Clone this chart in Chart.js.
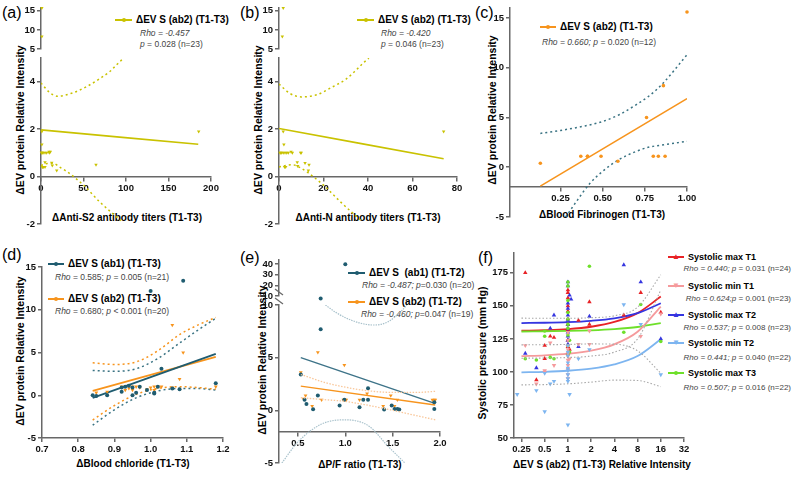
<!DOCTYPE html>
<html>
<head>
<meta charset="utf-8">
<script src="https://cdn.jsdelivr.net/npm/chart.js@4.4.1/dist/chart.umd.min.js"></script>
<style>
  body { margin: 0; background: #fff; }
  #fig { position: relative; width: 800px; height: 479px; overflow: hidden; font-family: 'Liberation Sans', Arial, sans-serif; }
  #fig canvas { position: absolute; left: 0; top: 0; }
  .t { position: absolute; white-space: nowrap; line-height: 1; color: #000; }
  .lab { font-size: 16px; transform: translateY(-50%); }
  .ax { font-size: 10px; font-weight: bold; transform: translate(-50%, -50%); }
  .yt { font-size: 10.5px; font-weight: bold; transform: translate(-50%, -50%) rotate(-90deg); }
  .lg { font-size: 10px; font-weight: bold; transform: translateY(-50%); }
  .lf { font-size: 9px; font-weight: bold; transform: translateY(-50%); }
  .st { font-size: 8.5px; color: #444; transform: translateY(-50%); }
  .sr { font-size: 8px; color: #444; transform: translate(-100%, -50%); }
  .sym { position: absolute; height: 2px; transform: translateY(-50%); }
  .sym b { position: absolute; left: 50%; top: 50%; width: 4px; height: 4px; margin: -2px 0 0 -2px; background: inherit; border-radius: 50%; }
  .sym i { position: absolute; left: 50%; top: 50%; transform: translate(-50%, -55%); font-size: 8px; font-style: normal; line-height: 1; }
</style>
</head>
<body>
<div id="fig">
  <!-- (a) -->
  <div class="t lab" style="left:2px;top:13px">(a)</div>
  <div class="t yt" style="left:20px;top:120px">ΔEV protein Relative Intensity</div>
  <div class="t ax" style="left:127px;top:218px">ΔAnti-S2 antibody titers (T1-T3)</div>
  <div class="sym" style="left:115px;top:20px;width:17px;background:#c9c200"><b></b></div>
  <div class="t lg" style="left:136px;top:20px">ΔEV S (ab2) (T1-T3)</div>
  <div class="t st" style="left:140px;top:33px"><i>Rho = -0.457</i></div>
  <div class="t st" style="left:140px;top:44px"><i>p</i> = 0.028 (n=23)</div>

  <!-- (b) -->
  <div class="t lab" style="left:240px;top:13px">(b)</div>
  <div class="t yt" style="left:258px;top:120px">ΔEV protein Relative Intensity</div>
  <div class="t ax" style="left:368px;top:218px">ΔAnti-N antibody titers (T1-T3)</div>
  <div class="sym" style="left:357px;top:20px;width:17px;background:#c9c200"><b></b></div>
  <div class="t lg" style="left:378px;top:20px">ΔEV S (ab2) (T1-T3)</div>
  <div class="t st" style="left:381px;top:33px"><i>Rho = -0.420</i></div>
  <div class="t st" style="left:381px;top:44px"><i>p</i> = 0.046 (n=23)</div>

  <!-- (c) -->
  <div class="t lab" style="left:475px;top:13px">(c)</div>
  <div class="t yt" style="left:492px;top:110px">ΔEV protein Relative Intensity</div>
  <div class="t ax" style="left:602px;top:215px">ΔBlood Fibrinogen (T1-T3)</div>
  <div class="sym" style="left:540px;top:27px;width:16px;background:#f7941d"><b></b></div>
  <div class="t lg" style="left:560px;top:27px">ΔEV S (ab2) (T1-T3)</div>
  <div class="t st" style="left:542px;top:42px"><i>Rho = 0.660; p</i> = 0.020 (n=12)</div>

  <!-- (d) -->
  <div class="t lab" style="left:2px;top:255px">(d)</div>
  <div class="t yt" style="left:20px;top:351px">ΔEV protein Relative Intensity</div>
  <div class="t ax" style="left:133px;top:464px">ΔBlood chloride (T1-T3)</div>
  <div class="sym" style="left:48px;top:264px;width:16px;background:#1f5c70"><b></b></div>
  <div class="t lg" style="left:68px;top:264px">ΔEV S (ab1) (T1-T3)</div>
  <div class="t st" style="left:55px;top:277px"><i>Rho</i> = 0.585; <i>p</i> = 0.005 (n=21)</div>
  <div class="sym" style="left:48px;top:299px;width:16px;background:#f7941d"><b></b></div>
  <div class="t lg" style="left:68px;top:299px">ΔEV S (ab2) (T1-T3)</div>
  <div class="t st" style="left:55px;top:311px"><i>Rho</i> = 0.680; <i>p</i> &lt; 0.001 (n=20)</div>

  <!-- (e) -->
  <div class="t lab" style="left:240px;top:258px">(e)</div>
  <div class="t yt" style="left:262px;top:360px">ΔEV protein Relative Intensity</div>
  <div class="t ax" style="left:360px;top:465px">ΔP/F ratio (T1-T3)</div>
  <div class="sym" style="left:348px;top:273px;width:17px;background:#1f5c70"><b></b></div>
  <div class="t lg" style="left:369px;top:273px">ΔEV S&nbsp; (ab1) (T1-T2)</div>
  <div class="t st" style="left:362px;top:285px"><i>Rho = -0.487; p</i>=0.030 (n=20)</div>
  <div class="sym" style="left:348px;top:302px;width:17px;background:#f7941d"><b></b></div>
  <div class="t lg" style="left:369px;top:302px">ΔEV S (ab2) (T1-T2)</div>
  <div class="t st" style="left:361px;top:314px"><i>Rho = -0.460; p</i>=0.047 (n=19)</div>

  <!-- (f) -->
  <div class="t lab" style="left:478px;top:258px">(f)</div>
  <div class="t yt" style="left:482px;top:353px">Systolic pressure (mm Hg)</div>
  <div class="t ax" style="left:602px;top:465px">ΔEV S (ab2) (T1-T3) Relative Intensity</div>
  <div class="sym" style="left:668px;top:257px;width:16px;background:#e82226;color:#e82226"><i>▲</i></div>
  <div class="t lf" style="left:688px;top:257px">Systolic max T1</div>
  <div class="t sr" style="left:791px;top:269px"><i>Rho = 0.440; p</i> = 0.031 (n=24)</div>
  <div class="sym" style="left:668px;top:286px;width:16px;background:#f59a9c;color:#f59a9c"><i>▼</i></div>
  <div class="t lf" style="left:688px;top:286px">Systolic min T1</div>
  <div class="t sr" style="left:791px;top:299px"><i>Rho = 0.624;p</i> = 0.001 (n=23)</div>
  <div class="sym" style="left:668px;top:315px;width:16px;background:#3535e0;color:#3535e0"><i>▲</i></div>
  <div class="t lf" style="left:688px;top:315px">Systolic max T2</div>
  <div class="t sr" style="left:791px;top:328px"><i>Rho = 0.537; p</i> = 0.008 (n=23)</div>
  <div class="sym" style="left:668px;top:343px;width:16px;background:#7db5f0;color:#7db5f0"><i>▼</i></div>
  <div class="t lf" style="left:688px;top:343px">Systolic min T2</div>
  <div class="t sr" style="left:791px;top:358px"><i>Rho = 0.441; p</i> = 0.040 (n=22)</div>
  <div class="sym" style="left:668px;top:373px;width:16px;background:#6ee02a;color:#6ee02a"><b></b></div>
  <div class="t lf" style="left:688px;top:373px">Systolic max T3</div>
  <div class="t sr" style="left:791px;top:388px"><i>Rho = 0.507; p</i> = 0.016 (n=22)</div>
</div>

<script>
// Couleurs
const YELLOW = "#c9c200"
const ORANGE = "#f7941d"
const TEAL = "#1f5c70"
const AXIS = "#686868"
const FONT = "'Liberation Sans', Arial, sans-serif"

// Panneau (a) : ΔAnti-S2
const aX = [1, 1, 1, 1, 1.5, 4.7, 6.7, 9.4, 9.8, 4.7, 1.5, 4.7, 12.6, 13.3, 18.5, 64.7, 185.5, 2.5, 0.5, 3, 11, 0.8, 2]
const aY = [15.7, 8.3, 1.9, 1.35, 1.0, 1.0, 1.0, 1.05, 1.0, 0.6, 0.4, 0.4, 0.58, 0.47, 0.26, 0.5, 1.9, 1.0, 1.0, 0.4, 1.05, 1.0, 0.4]
const aFitX = [0, 185]
const aFitY = [1.97, 1.36]
const aUpX = [0, 10, 20, 35, 54, 70, 81, 90, 97]
const aUpY = [3.95, 3.55, 3.39, 3.5, 3.8, 4.15, 4.43, 4.75, 4.99]
const aLoX = [0, 8, 15, 22, 30, 40, 50, 70, 94]
const aLoY = [0.47, 0.55, 0.55, 0.4, 0.22, -0.05, -0.36, -1.1, -1.86]
const aXTicks = [0, 50, 100, 150, 200]

// Panneau (b) : ΔAnti-N
const bX = [1.9, 1.5, 1.9, 2.2, 0.45, 1.2, 1.9, 2.7, 3.5, 4.2, 5.4, 9.7, 8.2, 8.4, 11.7, 13.5, 13.2, 3.0, 74, 0.8, 2.5, 6, 10]
const bY = [15.7, 8.3, 1.9, 1.35, 1.0, 1.0, 1.0, 1.0, 1.0, 1.0, 1.05, 1.0, 0.6, 0.45, 0.57, 0.5, 0.26, 0.4, 1.9, 1.0, 0.4, 1.0, 1.0]
const bFitX = [0, 74]
const bFitY = [2.03, 0.75]
const bUpX = [0, 5, 10, 17, 24, 30, 34, 38, 40.4]
const bUpY = [3.9, 3.5, 3.36, 3.45, 3.78, 4.1, 4.43, 4.8, 4.99]
const bLoX = [0, 3, 6, 9, 12.5, 16, 20, 28, 37]
const bLoY = [0.4, 0.47, 0.5, 0.4, 0.2, -0.05, -0.36, -1.1, -1.86]
const bXTicks = [0, 20, 40, 60, 80]

// Axe coupé commun à (a) et (b)
const abLowTicks = [-2, 0, 2, 4]
const abHighTicks = [5, 10, 15]

// Panneau (c) : fibrinogène
const cX = [0.13, 0.37, 0.41, 0.49, 0.59, 0.80, 0.83, 0.87, 0.76, 0.86, 1.00, 0.41]
const cY = [0.4, 1.1, 1.1, 1.1, 0.6, 1.1, 1.1, 1.1, 5.0, 8.2, 15.6, 1.1]
const cFitX = [0.13, 1.0]
const cFitY = [-1.9, 6.9]
const cUpX = [0.13, 0.25, 0.38, 0.5, 0.6, 0.7, 0.77, 0.85, 1.0]
const cUpY = [3.4, 3.7, 4.1, 4.6, 5.3, 6.3, 7.1, 8.3, 11.3]
const cLoX = [0.28, 0.35, 0.42, 0.5, 0.6, 0.7, 0.77, 0.88, 1.0]
const cLoY = [-5, -3.3, -1.7, -0.4, 0.8, 1.6, 2.0, 2.3, 2.6]
const cXTicks = [0.25, 0.5, 0.75, 1.0]
const cXLabels = ["0.25", "0.50", "0.75", "1.00"]
const cYTicks = [-5, 0, 5, 10, 15]

// Panneau (d) : chlorure
const dTealX = [0.84, 0.85, 0.88, 0.92, 0.92, 0.93, 0.94, 0.95, 0.95, 0.96, 0.97, 0.99, 1.00, 1.01, 1.01, 1.02, 1.03, 1.06, 1.08, 1.09, 1.18]
const dTealY = [0.0, -0.1, 0.0, 0.4, 0.9, 1.0, 1.1, 0.0, 0.9, 0.3, 1.0, 0.6, 12.2, 0.2, 0.3, 1.0, 3.1, 0.8, 0.7, 13.4, 1.4]
const dOrX = [0.85, 0.88, 0.92, 0.93, 0.95, 0.95, 0.96, 0.99, 1.00, 1.01, 1.01, 1.02, 1.03, 1.06, 1.08, 1.09, 1.18, 0.94, 0.97, 1.06]
const dOrY = [0.3, 0.4, 1.0, 0.6, 1.0, 0.6, 1.0, 0.7, 0.9, 1.0, 0.6, 1.0, 1.0, 8.2, 1.9, 5.0, 1.0, 0.8, 0.9, 0.9]
const dFitX = [0.84, 1.18]
const dTealFitY = [-0.3, 4.85]
const dOrFitY = [0.5, 4.5]
const dBandX = [0.84, 0.9, 0.96, 1.02, 1.08, 1.13, 1.18]
const dOrUpY = [3.8, 3.6, 3.9, 5.2, 7.1, 8.2, 9.1]
const dTealUpY = [2.9, 2.8, 3.1, 4.3, 6.1, 7.6, 9.0]
const dOrLoY = [-2.9, -1.2, 0.1, 0.8, 1.0, 0.9, 0.7]
const dTealLoY = [-3.5, -1.7, -0.3, 0.5, 0.8, 0.8, 0.6]
const dXTicks = [0.7, 0.8, 0.9, 1.0, 1.1, 1.2]
const dXLabels = ["0.7", "0.8", "0.9", "1.0", "1.1", "1.2"]
const dYTicks = [-5, 0, 5, 10, 15]

// Panneau (e) : rapport P/F
const eTealX = [1.0, 0.53, 0.74, 0.57, 0.59, 0.66, 0.71, 0.94, 0.99, 1.15, 1.19, 1.24, 1.24, 1.41, 1.49, 1.52, 1.55, 1.57, 1.94, 1.94]
const eTealY = [40, 3.4, 7.7, 1.0, 0.6, 0.1, 1.4, 0.45, 1.0, 0.3, 1.0, 1.0, 2.1, 0.07, 0.45, 0.13, 0.13, 0.07, 0.76, 0.13]
const eOrX = [0.53, 0.56, 0.58, 0.65, 0.71, 0.75, 0.99, 1.00, 1.01, 1.15, 1.23, 1.40, 1.48, 1.52, 1.55, 1.92, 1.94, 1.95, 0.98]
const eOrY = [3.6, 1.1, 1.4, 0.4, 5.5, 1.0, 4.3, 1.0, 1.0, 1.0, 1.6, 0.4, 1.4, 0.4, 1.0, 1.0, 1.0, 1.0, 1.0]
const eTealFitX = [0.53, 1.93]
const eTealFitY = [5.0, 0.7]
const eOrFitX = [0.53, 1.95]
const eOrFitY = [2.3, 0.5]
const eOrBandX = [0.53, 0.8, 1.0, 1.2, 1.5, 1.75, 1.95]
const eOrUpY = [3.4, 2.6, 2.2, 1.9, 1.7, 1.7, 1.8]
const eOrLoY = [1.2, 1.0, 0.85, 0.55, 0.0, -0.5, -0.9]
const eTealUpX = [0.79, 0.9, 1.0, 1.15, 1.3, 1.45, 1.6, 1.65]
const eTealUpY = [10, 9.3, 8.8, 8.3, 8.1, 8.4, 9.5, 10]
const eTealLoX = [0.33, 0.5, 0.75, 1.0, 1.25, 1.45, 1.63]
const eTealLoY = [-5, -3.0, -1.3, -0.9, -1.5, -3.4, -5]
const eXTicks = [0.5, 1.0, 1.5, 2.0]
const eXLabels = ["0.5", "1.0", "1.5", "2.0"]
const eLowTicks = [-5, 0, 5, 10]
const eHighTicks = [10, 20, 30, 40]

// Panneau (f) : pression systolique
const fMaxT1X = [0.28, 0.39, 0.5, 0.5, 0.59, 0.66, 1, 1, 1, 1, 1, 1, 1, 1, 1, 1, 1, 1.05, 1.37, 1.9, 1.9, 5.3, 8.8, 16]
const fMaxT1Y = [175, 94, 120, 110, 127, 126, 162, 160, 156, 150, 146, 140, 136, 132, 124, 114, 119, 117, 139, 153, 136, 143, 160, 145]
const fMinT1X = [0.28, 0.39, 0.5, 0.59, 0.66, 1, 1, 1, 1, 1, 1, 1, 1, 1, 1, 1, 1.05, 1.37, 1.9, 1.9, 8.8, 16, 0.5]
const fMinT1Y = [120, 91, 100, 122, 105, 130, 124, 120, 117, 114, 109, 105, 102, 98, 95, 112, 110, 121, 131, 121, 127, 144, 101]
const fMaxT2X = [0.28, 0.39, 0.59, 0.66, 1, 1, 1, 1, 1, 1, 1, 1, 1, 1.05, 1.1, 1.37, 1.9, 5.3, 8.8, 16, 1, 1, 1]
const fMaxT2Y = [114, 103, 133, 143, 168, 165, 152, 148, 143, 139, 136, 130, 124, 158, 155, 119, 142, 181, 168, 125, 127, 121, 133]
const fMinT2X = [0.22, 0.39, 0.5, 0.59, 0.5, 1, 1.05, 1, 1, 1, 1, 1, 1, 1, 1.37, 1.9, 5.3, 8.8, 16, 1, 1, 0.66]
const fMinT2Y = [83, 86, 70, 91, 99, 60, 83, 115, 112, 107, 103, 98, 95, 120, 110, 117, 151, 136, 98, 101, 93, 93]
const fMaxT3X = [0.28, 0.39, 0.5, 0.59, 0.66, 1, 1, 1, 1, 1, 1, 1, 1.05, 1.05, 1.9, 5.3, 8.8, 16, 1, 1, 0.5, 1]
const fMaxT3Y = [110, 109, 127, 111, 110, 168, 165, 154, 140, 133, 128, 120, 124, 115, 180, 130, 151, 123, 145, 113, 131, 136]
const fCurveX = [0.25, 0.5, 1, 2, 4, 8, 16]
const fMaxT1Fit = [131.2, 131.6, 132.4, 134.2, 137.8, 144.5, 157]
const fMinT1Fit = [112, 112.6, 113.8, 116.1, 120.9, 130.4, 149.5]
const fMaxT2Fit = [137, 137.2, 137.7, 138.7, 140.6, 144.5, 152]
const fMinT2Fit = [99.7, 100.1, 100.9, 102.5, 105.7, 112, 124.7]
const fMaxT3Fit = [130.6, 130.8, 131, 131.5, 132.4, 134, 137]
const fBand1 = [140.7, 140.6, 140.6, 141, 142.5, 149, 173.5]
const fBand2 = [120.5, 120.6, 120.8, 121.2, 121, 116, 99]
const fBand3 = [110.4, 110.5, 110.9, 112, 115, 125, 162]
const fBand4 = [90.2, 90.4, 91, 92.3, 93.8, 93.5, 88.9]
const fXTicks = [0.25, 0.5, 1, 2, 4, 8, 16, 32]
const fXLabels = ["0.25", "0.5", "1", "2", "4", "8", "16", "32"]
const fYTicks = [50, 75, 100, 125, 150, 175]

// Construction des axes
function axis(min, max, ticks, labels, extra) {
  return Object.assign({
    type: "linear",
    min,
    max,
    afterBuildTicks: (s) => { s.ticks = ticks.map((v) => ({ value: v })) },
    grid: { display: true, drawOnChartArea: false, drawTicks: true, tickLength: 4, color: AXIS, lineWidth: 1.5 },
    border: { display: true, color: AXIS, width: 1.5 },
    ticks: {
      color: "#111",
      padding: 2,
      autoSkip: false,
      maxRotation: 0,
      font: { family: FONT, size: 9.5, weight: "bold" },
      callback: (v, i) => (labels ? labels[i] : String(ticks[i])),
    },
  }, extra || {})
}

function hiddenX(min, max) {
  return { type: "linear", min, max, display: false }
}

// Jeux de données
function pairs(xs, ys) {
  return xs.map((x, i) => ({ x, y: ys[i] }))
}

function points(xs, ys, color, style, r, rot) {
  return {
    data: pairs(xs, ys),
    showLine: false,
    pointStyle: style,
    pointRadius: r,
    pointRotation: rot || 0,
    pointBackgroundColor: color,
    pointBorderColor: color,
    pointBorderWidth: 0,
    clip: 6,
  }
}

function curve(xs, ys, color, width, dash) {
  return {
    data: pairs(xs, ys),
    showLine: true,
    borderColor: color,
    borderWidth: width,
    borderDash: dash || [],
    pointRadius: 0,
    cubicInterpolationMode: "monotone",
  }
}

// box = [gauche, haut, droite, bas] de la zone de tracé, en pixels
function makeChart(box, scales, datasets, plugins) {
  const canvas = document.createElement("canvas")
  canvas.width = 800
  canvas.height = 479
  document.getElementById("fig").appendChild(canvas)

  // les axes occupent toute la marge, sinon leurs étiquettes sont rognées
  const bottomAxis = scales.x.display !== false && !scales.x.position
  scales.y.afterFit = (s) => { s.width = box[0] }
  scales.x.afterFit = (s) => { s.height = bottomAxis ? 479 - box[3] : 0 }

  return new Chart(canvas, {
    type: "scatter",
    data: { datasets },
    options: {
      responsive: false,
      animation: false,
      events: [],
      layout: { padding: { left: 0, top: box[1], right: 800 - box[2], bottom: bottomAxis ? 0 : 479 - box[3] } },
      plugins: { legend: { display: false }, tooltip: { enabled: false } },
      scales,
    },
    plugins: plugins || [],
  })
}

// Marques de coupure de l'axe (e)
const breakMarks = {
  id: "breakMarks",
  afterDraw(chart) {
    const { ctx, chartArea } = chart
    const x = chartArea.left
    ctx.save()
    ctx.strokeStyle = AXIS
    ctx.lineWidth = 1.2
    ;[chartArea.top - 4, chartArea.top - 13].forEach((y) => {
      ctx.beginPath()
      ctx.moveTo(x - 4, y - 3)
      ctx.lineTo(x + 4, y + 3)
      ctx.stroke()
    })
    ctx.restore()
  },
}

const DOT = [2, 3]

// (a) partie basse puis haute
makeChart([41, 58, 211, 224], {
  x: axis(0, 200, aXTicks, null, { position: { y: 0 } }),
  y: axis(-2, 5, abLowTicks),
}, [
  points(aX, aY, YELLOW, "triangle", 2, 180),
  curve(aFitX, aFitY, YELLOW, 1.6),
  curve(aUpX, aUpY, YELLOW, 1.5, DOT),
  curve(aLoX, aLoY, YELLOW, 1.5, DOT),
])
makeChart([41, 7, 211, 49], {
  x: hiddenX(0, 200),
  y: axis(5, 15.8, abHighTicks),
}, [points(aX, aY, YELLOW, "triangle", 2, 180)])

// (b)
makeChart([279, 58, 457, 224], {
  x: axis(0, 80, bXTicks, null, { position: { y: 0 } }),
  y: axis(-2, 5, abLowTicks),
}, [
  points(bX, bY, YELLOW, "triangle", 2, 180),
  curve(bFitX, bFitY, YELLOW, 1.6),
  curve(bUpX, bUpY, YELLOW, 1.5, DOT),
  curve(bLoX, bLoY, YELLOW, 1.5, DOT),
])
makeChart([279, 7, 457, 49], {
  x: hiddenX(0, 80),
  y: axis(5, 15.8, abHighTicks),
}, [points(bX, bY, YELLOW, "triangle", 2, 180)])

// (c)
makeChart([510, 8, 687, 217], {
  x: axis(-0.05, 1.0, cXTicks, cXLabels, { position: { y: -2 } }),
  y: axis(-5, 16, cYTicks),
}, [
  points(cX, cY, ORANGE, "circle", 1.8),
  curve(cFitX, cFitY, ORANGE, 1.6),
  curve(cUpX, cUpY, "#3a7383", 1.5, DOT),
  curve(cLoX, cLoY, "#3a7383", 1.5, DOT),
])

// (d)
makeChart([42, 267, 223, 438], {
  x: axis(0.7, 1.2, dXTicks, dXLabels),
  y: axis(-5, 15, dYTicks),
}, [
  points(dTealX, dTealY, TEAL, "circle", 2),
  points(dOrX, dOrY, ORANGE, "triangle", 2.2, 180),
  curve(dFitX, dTealFitY, TEAL, 1.8),
  curve(dFitX, dOrFitY, ORANGE, 1.8),
  curve(dBandX, dOrUpY, ORANGE, 1.5, DOT),
  curve(dBandX, dTealUpY, "#3a7383", 1.5, DOT),
  curve(dBandX, dOrLoY, ORANGE, 1.5, DOT),
  curve(dBandX, dTealLoY, "#3a7383", 1.5, DOT),
])

// (e) partie basse puis haute
makeChart([279, 305, 440, 463], {
  x: axis(0.3, 2.0, eXTicks, eXLabels, { position: { y: -2 } }),
  y: axis(-5, 10, eLowTicks),
}, [
  curve(eTealUpX, eTealUpY, "#a9c2cc", 1.2, [1.5, 1]),
  curve(eTealLoX, eTealLoY, "#a9c2cc", 1.2, [1.5, 1]),
  curve(eOrBandX, eOrUpY, "#f9c79a", 1.3, [1.5, 1.5]),
  curve(eOrBandX, eOrLoY, "#f9c79a", 1.3, [1.5, 1.5]),
  points(eTealX, eTealY, TEAL, "circle", 2),
  points(eOrX, eOrY, ORANGE, "triangle", 2.2, 180),
  curve(eTealFitX, eTealFitY, "#3d7388", 1.4),
  curve(eOrFitX, eOrFitY, ORANGE, 1.4),
], [breakMarks])
makeChart([279, 260, 440, 296], {
  x: hiddenX(0.3, 2.0),
  y: axis(10, 44, eHighTicks),
}, [points(eTealX, eTealY, TEAL, "circle", 2)])

// (f) axe x logarithmique
makeChart([514, 253, 684, 438], {
  x: axis(0.2, 32, fXTicks, fXLabels, { type: "logarithmic" }),
  y: axis(50, 190, fYTicks),
}, [
  curve(fCurveX, fBand1, "#a8a8a8", 1.1, [1.5, 2]),
  curve(fCurveX, fBand2, "#a8a8a8", 1.1, [1.5, 2]),
  curve(fCurveX, fBand3, "#a8a8a8", 1.1, [1.5, 2]),
  curve(fCurveX, fBand4, "#a8a8a8", 1.1, [1.5, 2]),
  points(fMinT2X, fMinT2Y, "#7db5f0", "triangle", 2.6, 180),
  points(fMinT1X, fMinT1Y, "#f59a9c", "triangle", 2.6, 180),
  points(fMaxT3X, fMaxT3Y, "#6ee02a", "circle", 1.8),
  points(fMaxT2X, fMaxT2Y, "#3535e0", "triangle", 2.6),
  points(fMaxT1X, fMaxT1Y, "#e82226", "triangle", 2.6),
  curve(fCurveX, fMinT2Fit, "#7db5f0", 1.8),
  curve(fCurveX, fMinT1Fit, "#f59a9c", 1.8),
  curve(fCurveX, fMaxT3Fit, "#6ee02a", 1.8),
  curve(fCurveX, fMaxT2Fit, "#3535e0", 1.8),
  curve(fCurveX, fMaxT1Fit, "#e82226", 1.8),
])
</script>
</body>
</html>
